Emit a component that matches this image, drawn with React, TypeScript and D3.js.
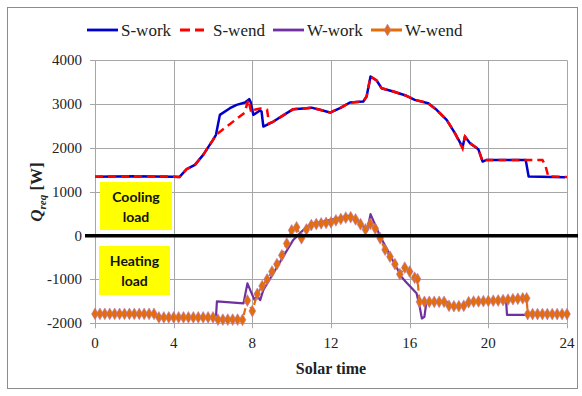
import React, { useEffect, useRef } from "react";
import * as d3 from "d3";

// ---------- data ----------
const xTicks = [0, 4, 8, 12, 16, 20, 24];
const yTicks = [-2000, -1000, 0, 1000, 2000, 3000, 4000];

const sWork: [number, number][] = [
  [0, 1345], [1, 1350], [2, 1355], [3, 1350], [4, 1345], [4.3, 1340], [4.66, 1516], [5.08, 1614],
  [5.5, 1842], [6.0, 2185], [6.15, 2300], [6.35, 2755], [6.86, 2908], [7.2, 2984], [7.63, 3037],
  [7.84, 3114], [7.92, 3040], [8.05, 2755], [8.39, 2854], [8.47, 2830], [8.56, 2489], [9.07, 2603],
  [9.75, 2794], [10.08, 2886], [10.76, 2908], [11.0, 2920], [11.44, 2870], [11.95, 2808],
  [12.46, 2908], [12.96, 3037], [13.64, 3060], [13.81, 3174], [14.01, 3630], [14.32, 3539],
  [14.57, 3364], [15.17, 3288], [15.84, 3190], [16.26, 3098], [16.94, 3022], [17.37, 2870],
  [17.88, 2642], [18.3, 2338], [18.69, 2018], [18.81, 2260], [19.07, 2110], [19.49, 1973],
  [19.71, 1690], [19.91, 1728], [21.9, 1728], [22.05, 1347], [23.9, 1333],
];

const sWend: [number, number][] = [
  [0, 1345], [1, 1350], [2, 1355], [3, 1350], [4, 1345], [4.3, 1340], [4.66, 1516], [5.08, 1614],
  [5.5, 1842], [6.0, 2185], [6.15, 2300], [7.6, 2800], [7.8, 3100], [7.95, 2800], [8.1, 2870],
  [8.4, 2900], [8.75, 2870], [8.85, 2560], [9.07, 2603], [9.75, 2794], [10.08, 2886], [10.76, 2908],
  [11.0, 2920], [11.44, 2870], [11.95, 2808], [12.46, 2908], [12.96, 3037], [13.64, 3060],
  [13.81, 3174], [14.01, 3630], [14.32, 3539], [14.57, 3364], [15.17, 3288], [15.84, 3190],
  [16.26, 3098], [16.94, 3022], [17.37, 2870], [17.88, 2642], [18.3, 2338], [18.69, 1990],
  [18.81, 2260], [19.07, 2110], [19.49, 1973], [19.71, 1690], [19.91, 1728], [22.75, 1728],
  [22.9, 1600], [23.05, 1350], [24.0, 1335],
];

const wWork: [number, number][] = [
  [0, -1785], [3.0, -1785], [3.15, -1865], [6.15, -1865], [6.2, -1500], [7.55, -1545],
  [7.75, -1090], [7.95, -1300], [8.1, -1460], [8.25, -1380], [8.4, -1470], [8.56, -1240],
  [9.07, -858], [9.57, -479], [10.08, -98], [10.3, 0], [10.59, 130], [11.02, 283], [11.6, 320],
  [12.29, 397], [12.88, 450], [13.3, 380], [13.64, 205], [13.84, 114], [14.01, 489], [14.47, 16],
  [15.0, -450], [15.6, -950], [15.8, -1050], [16.35, -1315], [16.5, -1600], [16.62, -1890],
  [16.75, -1850], [16.85, -1520], [17.9, -1510], [18.0, -1600], [18.8, -1605], [19.0, -1520],
  [20.9, -1470], [20.95, -1810], [21.95, -1810], [22.0, -1790], [24.0, -1790],
];

const wWend: [number, number][] = [
  [0, -1785], [0.25, -1785], [0.5, -1785], [0.75, -1785], [1, -1785], [1.25, -1785], [1.5, -1785],
  [1.75, -1785], [2, -1785], [2.25, -1785], [2.5, -1785], [2.75, -1785], [3, -1785],
  [3.25, -1865], [3.5, -1865], [3.75, -1865], [4, -1865], [4.25, -1865], [4.5, -1865],
  [4.75, -1865], [5, -1865], [5.25, -1865], [5.5, -1865], [5.75, -1865], [6, -1865],
  [6.25, -1915], [6.5, -1915], [6.75, -1915], [7, -1915], [7.25, -1915], [7.5, -1920],
  [7.75, -1480], [8, -1720], [8.25, -1330], [8.5, -1150], [8.75, -1000], [9, -820], [9.25, -650],
  [9.5, -450], [9.75, -180], [10, 120], [10.25, 190], [10.5, -60], [10.75, 140], [11, 240],
  [11.25, 265], [11.5, 280], [11.75, 290], [12, 300], [12.25, 350], [12.5, 380], [12.75, 410],
  [13, 420], [13.25, 370], [13.5, 260], [13.75, 140], [14, 270], [14.25, 160], [14.5, -60],
  [14.75, -320], [15, -480], [15.25, -650], [15.5, -880], [15.75, -730], [16, -820], [16.25, -960],
  [16.4, -990], [16.5, -1510], [16.75, -1510], [17, -1510], [17.25, -1510], [17.5, -1510],
  [17.75, -1510], [18, -1600], [18.25, -1610], [18.5, -1610], [18.75, -1600], [19, -1520],
  [19.25, -1505], [19.5, -1500], [19.75, -1495], [20, -1490], [20.25, -1485], [20.5, -1480],
  [20.75, -1470], [21, -1460], [21.25, -1450], [21.5, -1440], [21.75, -1430], [21.95, -1430],
  [22, -1790], [22.25, -1790], [22.5, -1790], [22.75, -1790], [23, -1790], [23.25, -1790],
  [23.5, -1790], [23.75, -1790], [24, -1790],
];

const legendNames = ["S-work", "S-wend", "W-work", "W-wend"];

const BLUE = "#0000CC";
const RED = "#FF0000";
const PURPLE = "#7030A0";
const ORANGE = "#E46C0A";
const SERIF = "'Liberation Serif', 'Times New Roman', 'DejaVu Serif', serif";

export default function App() {
  const ref = useRef<SVGSVGElement>(null);

  useEffect(() => {
    const svg = d3.select(ref.current);
    svg.selectAll("*").remove();

    const x = d3.scaleLinear().domain([0, 24]).range([95, 567]);
    const y = d3.scaleLinear().domain([-2000, 4000]).range([323.3, 60.3]);

    // outer chart border
    svg.append("rect").attr("x", 7.5).attr("y", 7.5).attr("width", 570).attr("height", 381)
      .attr("fill", "white").attr("stroke", "#8c8c8c").attr("stroke-width", 1);

    const g = svg.append("g");
    // gridlines
    g.selectAll("line.h").data(yTicks).enter().append("line")
      .attr("x1", x(0)).attr("x2", x(24))
      .attr("y1", (d) => Math.round(y(d)) + 0.5).attr("y2", (d) => Math.round(y(d)) + 0.5)
      .attr("stroke", "#A6A6A6").attr("stroke-width", 1);
    g.selectAll("line.v").data(xTicks).enter().append("line")
      .attr("y1", y(4000)).attr("y2", y(-2000))
      .attr("x1", (d) => Math.round(x(d)) + 0.5).attr("x2", (d) => Math.round(x(d)) + 0.5)
      .attr("stroke", "#A6A6A6").attr("stroke-width", 1);

    // tick marks
    g.selectAll("line.yt").data(yTicks).enter().append("line")
      .attr("x1", x(0) - 5).attr("x2", x(0))
      .attr("y1", (d) => Math.round(y(d)) + 0.5).attr("y2", (d) => Math.round(y(d)) + 0.5)
      .attr("stroke", "#A6A6A6");
    g.selectAll("line.xt").data(xTicks).enter().append("line")
      .attr("y1", y(-2000)).attr("y2", y(-2000) + 5)
      .attr("x1", (d) => Math.round(x(d)) + 0.5).attr("x2", (d) => Math.round(x(d)) + 0.5)
      .attr("stroke", "#A6A6A6");

    // tick labels
    g.selectAll("text.yl").data(yTicks).enter().append("text")
      .attr("x", 82).attr("y", (d) => y(d) + 5)
      .attr("text-anchor", "end")
      .style("font-family", SERIF).attr("font-size", 15).attr("fill", "#222")
      .text((d) => String(d));
    g.selectAll("text.xl").data(xTicks).enter().append("text")
      .attr("x", (d) => x(d)).attr("y", 348)
      .attr("text-anchor", "middle")
      .style("font-family", SERIF).attr("font-size", 15).attr("fill", "#222")
      .text((d) => String(d));

    // axis titles
    svg.append("text").attr("x", 331).attr("y", 374).attr("text-anchor", "middle")
      .style("font-family", SERIF).attr("font-size", 16).attr("font-weight", "bold")
      .attr("fill", "#222").text("Solar time");
    const yt = svg.append("text").attr("transform", "translate(42,192) rotate(-90)")
      .attr("text-anchor", "middle")
      .style("font-family", SERIF).attr("font-size", 17).attr("font-weight", "bold")
      .attr("fill", "#222");
    yt.append("tspan").attr("font-style", "italic").text("Q");
    yt.append("tspan").attr("font-style", "italic").attr("font-size", 11).attr("dy", 4).text("req");
    yt.append("tspan").attr("dy", -4).text(" [W]");

    // yellow boxes
    const boxes = [
      { x0: 100, y0: 182, w: 72, h: 48, l1: "Cooling", l2: "load" },
      { x0: 99, y0: 246, w: 71, h: 49, l1: "Heating", l2: "load" },
    ];
    boxes.forEach((b) => {
      svg.append("rect").attr("x", b.x0).attr("y", b.y0).attr("width", b.w).attr("height", b.h)
        .attr("fill", "#FFFF00");
      svg.append("text").attr("x", b.x0 + b.w / 2).attr("y", b.y0 + 20).attr("text-anchor", "middle")
        .style("font-family", "Lato, sans-serif").attr("font-weight", "bold").attr("font-size", 14)
        .attr("fill", "#111").text(b.l1);
      svg.append("text").attr("x", b.x0 + b.w / 2).attr("y", b.y0 + 40).attr("text-anchor", "middle")
        .style("font-family", "Lato, sans-serif").attr("font-weight", "bold").attr("font-size", 14)
        .attr("fill", "#111").text(b.l2);
    });

    const line = d3.line<[number, number]>().x((d) => x(d[0])).y((d) => y(d[1]));

    // series
    svg.append("path").attr("d", line(sWork)!).attr("fill", "none").attr("stroke", BLUE)
      .attr("stroke-width", 2.5).attr("stroke-linejoin", "round");
    svg.append("path").attr("d", line(sWend)!).attr("fill", "none").attr("stroke", RED)
      .attr("stroke-width", 2.5).attr("stroke-dasharray", "8,5");
    svg.append("path").attr("d", line(wWork)!).attr("fill", "none").attr("stroke", PURPLE)
      .attr("stroke-width", 2.2).attr("stroke-linejoin", "round");
    svg.append("path").attr("d", line(wWend)!).attr("fill", "none").attr("stroke", ORANGE)
      .attr("stroke-width", 2.2).attr("stroke-dasharray", "7,4");
    const diamond = d3.symbol().type(d3.symbolDiamond).size(40);
    svg.selectAll("path.mk").data(wWend).enter().append("path")
      .attr("d", diamond()!)
      .attr("transform", (d) => `translate(${x(d[0])},${y(d[1])})`)
      .attr("fill", ORANGE).attr("stroke", "#B07CC0").attr("stroke-width", 0.6);

    // zero line
    svg.append("line").attr("x1", 85).attr("x2", 578).attr("y1", y(0)).attr("y2", y(0))
      .attr("stroke", "black").attr("stroke-width", 3.5);

    // legend
    const lg = svg.append("g").style("font-family", SERIF).attr("font-size", 17)
      .attr("fill", "#222");
    const items = [
      { x0: 87, x1: 118, tx: 121, color: BLUE, dash: null, mk: false },
      { x0: 180, x1: 204, tx: 213, color: RED, dash: "10,5", mk: false },
      { x0: 273, x1: 304, tx: 307, color: PURPLE, dash: null, mk: false },
      { x0: 371, x1: 402, tx: 405, color: ORANGE, dash: "14,4", mk: true },
    ];
    items.forEach((it, i) => {
      const l = lg.append("line").attr("x1", it.x0).attr("x2", it.x1).attr("y1", 30).attr("y2", 30)
        .attr("stroke", it.color).attr("stroke-width", 2.8);
      if (it.dash) l.attr("stroke-dasharray", it.dash);
      if (it.mk) {
        lg.append("path").attr("d", diamond()!)
          .attr("transform", `translate(${(it.x0 + it.x1) / 2 + 1},30)`)
          .attr("fill", ORANGE).attr("stroke", "#B07CC0").attr("stroke-width", 0.6);
      }
      lg.append("text").attr("x", it.tx).attr("y", 35.5).text(legendNames[i]);
    });
  }, []);

  return (
    <svg ref={ref} width={582} height={396}
      style={{ position: "absolute", left: 0, top: 0, background: "white" }} />
  );
}
